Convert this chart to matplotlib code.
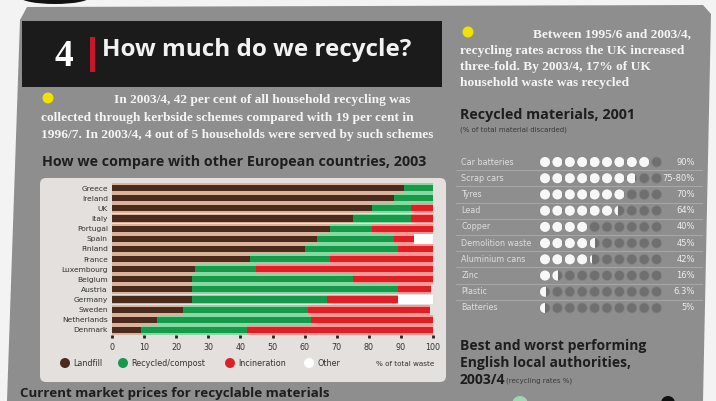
import matplotlib
matplotlib.use("Agg")
import matplotlib.pyplot as plt
from matplotlib.patches import Rectangle, FancyBboxPatch, Ellipse, Circle, Polygon
import numpy as np

# European comparison, 2003 (% of total waste)
countries = ["Greece", "Ireland", "UK", "Italy", "Portugal", "Spain", "Finland", "France",
             "Luxembourg", "Belgium", "Austria", "Germany", "Sweden", "Netherlands", "Denmark"]
landfill = [91, 88, 81, 75, 68, 64, 60, 43, 26, 25, 25, 25, 22, 14, 9]
recycled = [9, 12, 12, 18, 13, 24, 29, 25, 19, 50, 64, 42, 39, 48, 33]
incineration = [0, 0, 7, 7, 19, 6, 11, 32, 55, 25, 10.5, 22, 38, 38, 58]
other = [0, 0, 0, 0, 0, 6, 0, 0, 0, 0, 0, 11, 0, 0, 0]

# Recycled materials, 2001 (% of total material discarded)
materials = ["Car batteries", "Scrap cars", "Tyres", "Lead", "Copper", "Demolition waste",
             "Aluminium cans", "Zinc", "Plastic", "Batteries"]
mat_values = [90, 78, 70, 64, 40, 45, 42, 16, 6.3, 5]
mat_labels = ["90%", "75-80%", "70%", "64%", "40%", "45%", "42%", "16%", "6.3%", "5%"]

W, H = 716, 401
fig = plt.figure(figsize=(W / 100, H / 100), dpi=100)
fig.patch.set_facecolor("#f3f3f3")

bg = fig.add_axes([0, 0, 1, 1])
bg.set_xlim(0, W)
bg.set_ylim(H, 0)
bg.axis("off")

GREY = "#8e8e8e"
# main grey sheet (photo is slightly skewed)
bg.add_patch(Polygon([(27, 7), (703, 5), (711, 14), (703, 401), (7, 401), (20, 20)],
                     closed=True, fc=GREY, ec="none"))
bg.add_patch(Ellipse((55, -3), 70, 14, fc="#111111", ec="none"))

# title block
bg.add_patch(Rectangle((22, 21), 420, 66, fc="#1b1b1b", ec="none"))
bg.text(64, 57, "4", color="white", fontsize=27, fontweight="bold",
        family="Liberation Serif", ha="center", va="center")
bg.add_patch(Rectangle((90, 37), 5, 35, fc="#c8162a", ec="none"))
bg.text(102, 50, "How much do we recycle?", color="#f2f2f2", fontsize=17.5,
        fontweight="bold", family="Open Sans", ha="left", va="center")

serif = dict(color="#f5f5f5", fontsize=9.6, fontweight="bold", family="Liberation Serif",
             va="center")
bg.add_patch(Circle((48, 98), 5.5, fc="#f2e200", ec="none"))
bg.text(114, 100, "In 2003/4, 42 per cent of all household recycling was", ha="left", **serif)
bg.text(41, 118, "collected through kerbside schemes compared with 19 per cent in", ha="left", **serif)
bg.text(41, 135, "1996/7. In 2003/4, 4 out of 5 households were served by such schemes", ha="left", **serif)

bg.add_patch(Circle((468, 32), 5.5, fc="#f2e200", ec="none"))
bg.text(533, 34, "Between 1995/6 and 2003/4,", ha="left", **serif)
bg.text(460, 51, "recycling rates across the UK increased", ha="left", **serif)
bg.text(460, 67, "three-fold. By 2003/4, 17% of UK", ha="left", **serif)
bg.text(460, 83, "household waste was recycled", ha="left", **serif)

head = dict(color="#1e1e1e", fontsize=10.3, fontweight="bold", family="Open Sans",
            ha="left", va="center")
bg.text(42, 162, "How we compare with other European countries, 2003", **head)
bg.text(460, 115, "Recycled materials, 2001", **dict(head, fontsize=10.3))
bg.text(460, 130, "(% of total material discarded)", color="#3a3a3a", fontsize=5,
        ha="left", va="center")
bg.text(460, 346, "Best and worst performing", **dict(head, fontsize=10))
bg.text(460, 363, "English local authorities,", **dict(head, fontsize=10))
bg.text(460, 380, "2003/4", **dict(head, fontsize=10))
bg.text(506, 381, "(recycling rates %)", color="#3a3a3a", fontsize=5, ha="left", va="center")
bg.text(20, 394, "Current market prices for recyclable materials", **dict(head, fontsize=9.6))
bg.add_patch(Circle((520, 404), 8, fc="#9fd8b0", ec="none"))
bg.add_patch(Circle((668, 403), 7, fc="#111111", ec="none"))

# bar chart panel
bg.add_patch(FancyBboxPatch((42, 180), 402, 200, boxstyle="round,pad=2,rounding_size=6",
                            fc="#e3e0dd", ec="none"))

ax = fig.add_axes([112 / W, 1 - 335 / H, 321 / W, 152 / H])
ax.set_facecolor("none")
y = np.arange(len(countries))
parts = [(landfill, "#4a2b1d", "#d9b39a"), (recycled, "#169a4a", "#86d9a0"),
         (incineration, "#e01f24", "#f39a98"), (other, "#ffffff", "#ffffff")]
left = np.zeros(len(countries))
for vals, dark, light in parts:
    vals = np.array(vals, dtype=float)
    ax.barh(y, vals, left=left, height=0.98, color=light, linewidth=0)
    ax.barh(y, vals, left=left, height=0.6, color=dark, linewidth=0)
    left += vals
ax.set_xlim(0, 100)
ax.set_ylim(len(countries) - 0.5, -0.5)
ax.set_yticks(y)
ax.set_yticklabels(countries, fontsize=5.4, color="#333333")
ax.set_xticks(np.arange(0, 101, 10))
ax.tick_params(axis="y", length=0, pad=3)
ax.tick_params(axis="x", length=2, width=2, color="#222222", labelsize=5.8,
               labelcolor="#333333", pad=4)
for s in ax.spines.values():
    s.set_visible(False)

leg = [("#4a2b1d", "Landfill", 65), ("#169a4a", "Recycled/compost", 123),
       ("#e01f24", "Incineration", 230), ("#ffffff", "Other", 309)]
for c, lab, x in leg:
    bg.add_patch(Circle((x, 363), 5, fc=c, ec="none"))
    bg.text(x + 8, 364, lab, fontsize=5.8, color="#333333", ha="left", va="center")
bg.text(434, 364, "% of total waste", fontsize=5.2, color="#333333", ha="right", va="center")

# recycled materials dot chart
dx, dy = 12.4, 16.22
dax = fig.add_axes([538.8 / W, 1 - (153.9 + 10 * dy) / H, 10 * dx / W, 10 * dy / H])
dax.set_xlim(0, 10)
dax.set_ylim(len(materials) - 0.5, -0.5)
dax.axis("off")
for i, (name, v, lab) in enumerate(zip(materials, mat_values, mat_labels)):
    if i > 0:
        dax.plot([-6.7, 13.2], [i - 0.5, i - 0.5], color="#a6a6a6", lw=0.8, clip_on=False)
    dax.text(-6.25, i, name, fontsize=5.8, color="#dedede", ha="left", va="center", clip_on=False)
    dax.text(12.6, i, lab, fontsize=6.0, color="#eeeeee", ha="right", va="center", clip_on=False)
    full = v / 10.0
    for k in range(10):
        dax.add_patch(Ellipse((k + 0.5, i), 0.82, 0.82 * dx / dy, fc="#6f6f6f",
                              ec="#858585", lw=0.6))
        frac = min(max(full - k, 0), 1)
        if frac > 0:
            e = Ellipse((k + 0.5, i), 0.82, 0.82 * dx / dy, fc="#f7f7f7", ec="none")
            dax.add_patch(e)
            clip = Rectangle((k + 0.09, i - 0.5), 0.82 * frac, 1, transform=dax.transData)
            e.set_clip_path(clip)

fig.savefig("out.png", dpi=100, facecolor=fig.get_facecolor())
